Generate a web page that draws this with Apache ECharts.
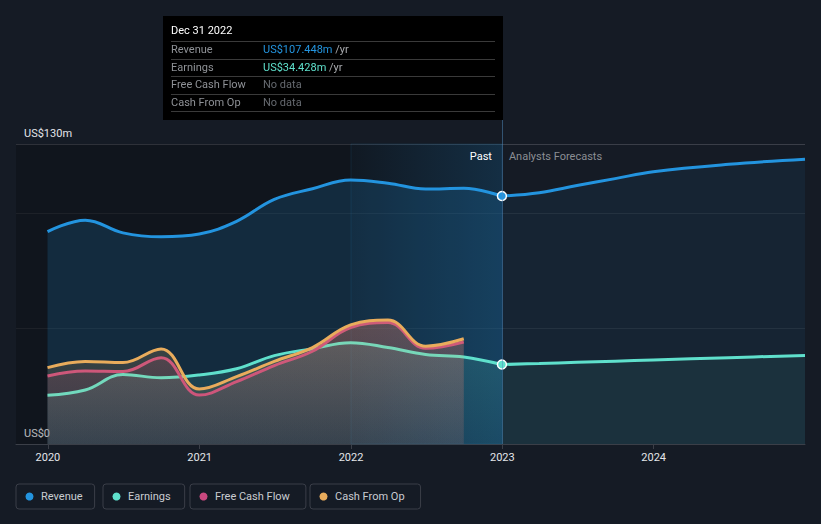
<!DOCTYPE html>
<html>
<head>
<meta charset="utf-8">
<script src="https://cdn.jsdelivr.net/npm/echarts@6/dist/echarts.min.js"></script>
<style>
  html, body { margin: 0; padding: 0; background: #151b25; }
  #chart { width: 821px; height: 524px; }
</style>
</head>
<body>
<div id="chart"></div>
<script>
// ---- data (US$ millions) ----
const xMin = '2019-10-16';
const xMax = '2024-12-31';
const lastYearStart = '2022-01-01';
const dividerDate = '2022-12-31';

const pastDates = ['2019-12-31','2020-03-31','2020-06-30','2020-09-30','2020-12-31','2021-03-31','2021-06-30','2021-09-30','2021-12-31','2022-03-31','2022-06-30','2022-09-30','2022-12-31'];
const revenuePast  = [92.0, 97.0, 91.5, 89.8, 91.0, 96.5, 106.0, 110.6, 114.4, 113.0, 110.5, 110.8, 107.448];
const earningsPast = [21.1, 23.4, 30.1, 28.7, 29.9, 32.6, 38.3, 41.3, 43.9, 41.8, 38.8, 37.7, 34.428];

const cashDates = ['2019-12-31','2020-03-31','2020-06-30','2020-09-30','2020-12-31','2021-03-31','2021-06-30','2021-09-30','2021-12-31','2022-03-31','2022-06-30','2022-09-30'];
const fcfPast = [29.5, 31.6, 31.4, 37.4, 21.2, 27.0, 34.0, 40.2, 50.5, 52.6, 41.5, 44.2];
const cfoPast = [33.1, 35.8, 35.3, 41.2, 23.8, 29.2, 35.8, 41.8, 51.6, 53.7, 42.4, 45.6];

const forecastDates = ['2022-12-31','2023-03-31','2023-06-30','2023-09-30','2023-12-31','2024-06-30','2024-12-31'];
const revenueForecast  = [107.448, 108.9, 112.0, 115.0, 118.0, 121.2, 123.4];
const earningsForecast = [34.428, 34.9, 35.4, 35.9, 36.4, 37.4, 38.4];

const yMax = 130;
const yLabels = { 0: 'US$0', 130: 'US$130m' };
const legendNames = ['Revenue', 'Earnings', 'Free Cash Flow', 'Cash From Op'];
const tooltipTitle = 'Dec 31 2022';
const tooltipRows = [
  ['Revenue', 'US$107.448m', ' /yr'],
  ['Earnings', 'US$34.428m', ' /yr'],
  ['Free Cash Flow', 'No data', ''],
  ['Cash From Op', 'No data', '']
];
const pastLabel = 'Past';
const forecastLabel = 'Analysts Forecasts';

// ---- styles ----
const C = { rev: '#2394df', earn: '#5fe0cc', fcf: '#c9487f', cfo: '#e9ac5c' };
const FONT = 'Roboto, "Noto Sans", sans-serif';

function pairs(dates, vals) { return dates.map((d, i) => [d, vals[i]]); }
function withDot(dates, vals, color) {
  return dates.map((d, i) => i === 0
    ? { value: [d, vals[i]], symbol: 'circle', symbolSize: 9,
        itemStyle: { color: color, borderColor: '#ffffff', borderWidth: 1.5 } }
    : [d, vals[i]]);
}
function vgrad(rgb, a0, a1) {
  return new echarts.graphic.LinearGradient(0, 0, 0, 1, [
    { offset: 0, color: 'rgba(' + rgb + ',' + a0 + ')' },
    { offset: 1, color: 'rgba(' + rgb + ',' + a1 + ')' }
  ]);
}

const chart = echarts.init(document.getElementById('chart'), null, { renderer: 'svg' });

const lineBase = {
  type: 'line', smooth: 0.4, symbol: 'none', emphasis: { disabled: true },
  lineStyle: { width: 3 }, silent: true
};

const legendColors = [C.rev, C.earn, C.fcf, C.cfo];
const legendLefts = [16, 103, 190, 310];
const legendPadRight = [12, 14, 16, 16];
const legends = legendNames.map((n, i) => ({
  data: [{ name: n, itemStyle: { color: legendColors[i] } }],
  left: legendLefts[i], top: 484, orient: 'horizontal',
  icon: 'circle', itemWidth: 13, itemHeight: 8,
  padding: [7, legendPadRight[i], 7, 9.5],
  borderColor: '#3a3e48', borderWidth: 1, borderRadius: 3,
  selectedMode: false,
  textStyle: { color: '#c9ccd1', fontSize: 11, fontFamily: FONT }
}));

function tooltipHtml() {
  let h = '<div style="width:324px;font-family:' + FONT.replace(/"/g, "'") + ';font-size:11px;">';
  h += '<div style="height:20px;line-height:20px;color:#ffffff;border-bottom:1px solid #3a3a3a;">' + tooltipTitle + '</div>';
  const valColors = [C.rev, C.earn, '#666a70', '#666a70'];
  tooltipRows.forEach((r, i) => {
    h += '<div style="height:16.5px;line-height:16.5px;border-bottom:1px solid #3a3a3a;white-space:nowrap;">' +
      '<span style="display:inline-block;width:92px;color:#8f9297;">' + r[0] + '</span>' +
      '<span style="color:' + valColors[i] + ';">' + r[1] + '</span>' +
      '<span style="color:#a9abaf;">' + r[2] + '</span></div>';
  });
  h += '</div>';
  return h;
}

chart.setOption({
  animation: false,
  backgroundColor: '#151b25',
  textStyle: { fontFamily: FONT },
  grid: { left: 16, right: 16, top: 144, bottom: 80 },
  tooltip: {
    trigger: 'item', triggerOn: 'none', alwaysShowContent: true,
    position: [163, 16], transitionDuration: 0,
    backgroundColor: '#000000', borderWidth: 0, padding: [5, 8, 8, 8],
    extraCssText: 'box-shadow:none;border-radius:0;',
    formatter: tooltipHtml
  },
  legend: legends,
  xAxis: {
    type: 'time', min: xMin, max: xMax,
    minInterval: 365 * 24 * 3600 * 1000,
    axisLine: { lineStyle: { color: '#3b3f48' } },
    axisTick: { show: true, length: 5, lineStyle: { color: '#3b3f48' } },
    axisLabel: { color: '#e4e6ea', fontSize: 11, formatter: '{yyyy}', margin: 8 },
    splitLine: { show: false }
  },
  yAxis: {
    type: 'value', min: 0, max: yMax, interval: 50,
    axisLine: { show: false }, axisTick: { show: false },
    axisLabel: {
      inside: true, margin: 8, color: '#e4e6ea', fontSize: 11,
      verticalAlign: 'bottom', padding: [0, 0, 5, 0],
      formatter: v => yLabels[v] || ''
    },
    splitLine: { lineStyle: { color: ['#363a44', '#252a33', '#252a33', '#3a3e48'], width: 1 } }
  },
  series: [
    Object.assign({}, lineBase, {
      name: 'Revenue', data: pairs(pastDates, revenuePast),
      lineStyle: { width: 3, color: C.rev }, itemStyle: { color: C.rev },
      areaStyle: { color: 'rgba(35,148,223,0.25)' },
      markArea: {
        silent: true,
        data: [
          [{ xAxis: xMin, itemStyle: { color: 'rgba(0,0,0,0.2)', borderWidth: 0 } }, { xAxis: dividerDate }],
          [{ xAxis: lastYearStart, itemStyle: {
              color: new echarts.graphic.LinearGradient(0, 0, 1, 0, [
                { offset: 0, color: 'rgba(35,148,223,0.03)' },
                { offset: 1, color: 'rgba(35,148,223,0.2)' }
              ]),
              borderColor: 'rgba(35,148,223,0.12)', borderWidth: 1 } },
           { xAxis: dividerDate }]
        ]
      }
    }),
    Object.assign({}, lineBase, {
      name: 'Revenue', data: withDot(forecastDates, revenueForecast, C.rev),
      lineStyle: { width: 3, color: C.rev }, itemStyle: { color: C.rev },
      areaStyle: { color: 'rgba(35,148,223,0.12)' }, silent: false
    }),
    Object.assign({}, lineBase, {
      name: 'Earnings', data: pairs(pastDates, earningsPast),
      lineStyle: { width: 3, color: C.earn }, itemStyle: { color: C.earn },
      areaStyle: { color: vgrad('95,224,204', 0.24, 0.1) }
    }),
    Object.assign({}, lineBase, {
      name: 'Earnings', data: withDot(forecastDates, earningsForecast, C.earn),
      lineStyle: { width: 3, color: C.earn }, itemStyle: { color: C.earn },
      areaStyle: { color: 'rgba(95,224,204,0.1)' }
    }),
    Object.assign({}, lineBase, {
      name: 'Free Cash Flow', data: pairs(cashDates, fcfPast), z: 3,
      lineStyle: { width: 3, color: C.fcf }, itemStyle: { color: C.fcf },
      areaStyle: { color: vgrad('201,72,127', 0.29, 0.12) }
    }),
    Object.assign({}, lineBase, {
      name: 'Cash From Op', data: pairs(cashDates, cfoPast), z: 4,
      lineStyle: { width: 3, color: C.cfo }, itemStyle: { color: C.cfo },
      areaStyle: { color: vgrad('233,172,92', 0.29, 0.12) }
    })
  ]
});

// divider line and Past / Forecast labels, placed through the axes' scales
const parseT = (echarts.time && echarts.time.parse) ? echarts.time.parse : (d => new Date(d));
const xDiv = chart.convertToPixel({ xAxisIndex: 0 }, +parseT(dividerDate));
const yTop = chart.convertToPixel({ yAxisIndex: 0 }, yMax);
const yBot = chart.convertToPixel({ yAxisIndex: 0 }, 0);
chart.setOption({
  graphic: [
    { type: 'line', silent: true, z: 5,
      shape: { x1: Math.round(xDiv) + 0.5, y1: yTop - 25, x2: Math.round(xDiv) + 0.5, y2: yBot },
      style: { stroke: 'rgba(80,140,190,0.5)', lineWidth: 1 } },
    { type: 'text', silent: true, z: 5, x: xDiv - 10, y: yTop + 12,
      style: { text: pastLabel, fill: '#ffffff', font: '11px ' + FONT, textAlign: 'right', textVerticalAlign: 'middle' } },
    { type: 'text', silent: true, z: 5, x: xDiv + 7, y: yTop + 12,
      style: { text: forecastLabel, fill: '#8b8e94', font: '11px ' + FONT, textAlign: 'left', textVerticalAlign: 'middle' } }
  ]
});

chart.dispatchAction({ type: 'showTip', seriesIndex: 1, dataIndex: 0 });
</script>
</body>
</html>
